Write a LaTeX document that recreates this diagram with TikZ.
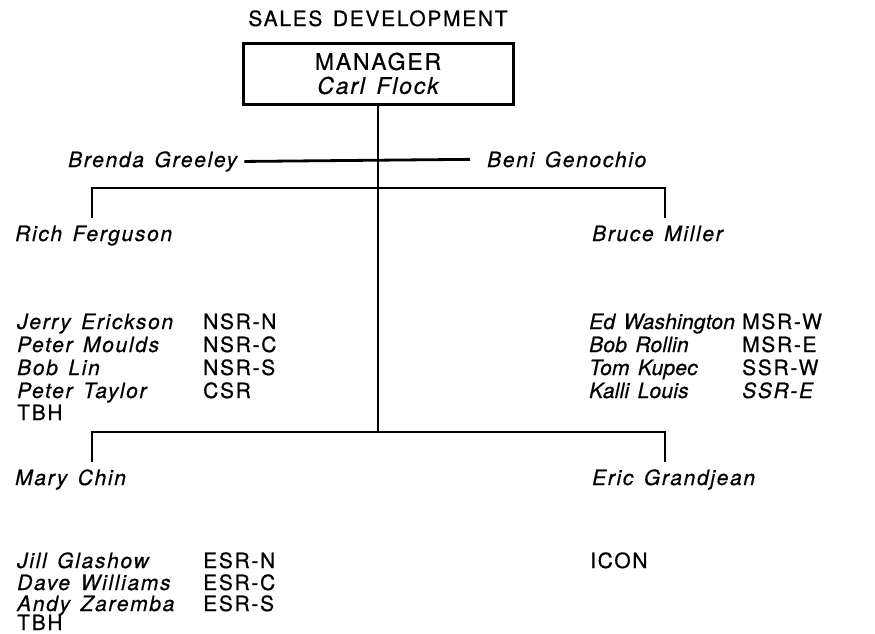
\documentclass[tikz,border=0pt]{standalone}
\usepackage{fontspec}
\setmainfont{TeX Gyre Heros}[LetterSpace=8, WordSpace=1.4, FakeBold=0.6]
\begin{document}
\begin{tikzpicture}[x=1pt,y=-1pt,
  every node/.style={inner sep=0pt, font=\fontsize{21}{23}\selectfont},
  person/.style={anchor=base west, font=\fontsize{21}{23}\selectfont\itshape},
  code/.style={anchor=base west},
  tight/.style={font=\fontsize{21}{23}\selectfont\itshape\addfontfeature{LetterSpace=1}},
  link/.style={line width=2.8pt},
  mgrbox/.style={draw, line width=3pt, minimum width=270pt, minimum height=61pt,
    align=center, font=\fontsize{23}{24}\selectfont}]
\useasboundingbox (0,0) rectangle (875,633);

% head of the department
\node[anchor=base] (title) at (378,26) {SALES DEVELOPMENT};
\node[mgrbox] (mgr) at (378,73.5) {MANAGER\\\itshape Carl Flock};

% staff assistants
\node[person] (brenda) at (68,167) {Brenda Greeley};
\node[person] (beni) at (487,167) {Beni Genochio};

% regional managers
\node[person] (rich) at (15,241) {Rich Ferguson};
\node[person] (bruce) at (592,241) {Bruce Miller};
\node[person] (mary) at (15,485) {Mary Chin};
\node[person] (eric) at (592,485) {Eric Grandjean};

% junctions on the trunk and tops of the branch stubs
\coordinate (j1) at (378,188);
\coordinate (j2) at (378,432);
\coordinate (richT) at (92,218);
\coordinate (bruceT) at (665,218);
\coordinate (maryT) at (92,462);
\coordinate (ericT) at (665,462);

% connectors
\draw[link] (mgr.south) -- (j2);
\draw[link] ([xshift=7pt]brenda.east) -- ([xshift=-17pt]beni.west);
\draw[link] (j1) -| (richT);
\draw[link] (j1) -| (bruceT);
\draw[link] (j2) -| (maryT);
\draw[link] (j2) -| (ericT);

% north team
\node[person] (jerry) at (17,329) {Jerry Erickson};
\node[code]   (jerryC) at (203,329) {NSR-N};
\node[person] (moulds) at (17,352) {Peter Moulds};
\node[code]   (mouldsC) at (203,352) {NSR-C};
\node[person] (lin) at (17,375) {Bob Lin};
\node[code]   (linC) at (203,375) {NSR-S};
\node[person] (taylor) at (17,398) {Peter Taylor};
\node[code]   (taylorC) at (203,398) {CSR};
\node[code]   (tbh1) at (17,420) {TBH};

% midwest / south team
\node[person,tight] (ed) at (589,329) {Ed Washington};
\node[code]   (edC) at (742,329) {MSR-W};
\node[person,tight] (rollin) at (589,352) {Bob Rollin};
\node[code]   (rollinC) at (742,352) {MSR-E};
\node[person,tight] (kupec) at (589,375) {Tom Kupec};
\node[code]   (kupecC) at (742,375) {SSR-W};
\node[person,tight] (kalli) at (589,398) {Kalli Louis};
\node[person] (kalliC) at (742,398) {SSR-E};

% east team
\node[person] (jill) at (17,568) {Jill Glashow};
\node[code]   (jillC) at (203,568) {ESR-N};
\node[person] (dave) at (17,590) {Dave Williams};
\node[code]   (daveC) at (203,590) {ESR-C};
\node[person] (andy) at (17,611) {Andy Zaremba};
\node[code]   (andyC) at (203,611) {ESR-S};
\node[code]   (tbh2) at (17,630) {TBH};

\node[code] (icon) at (590,568) {ICON};
\end{tikzpicture}
\end{document}
